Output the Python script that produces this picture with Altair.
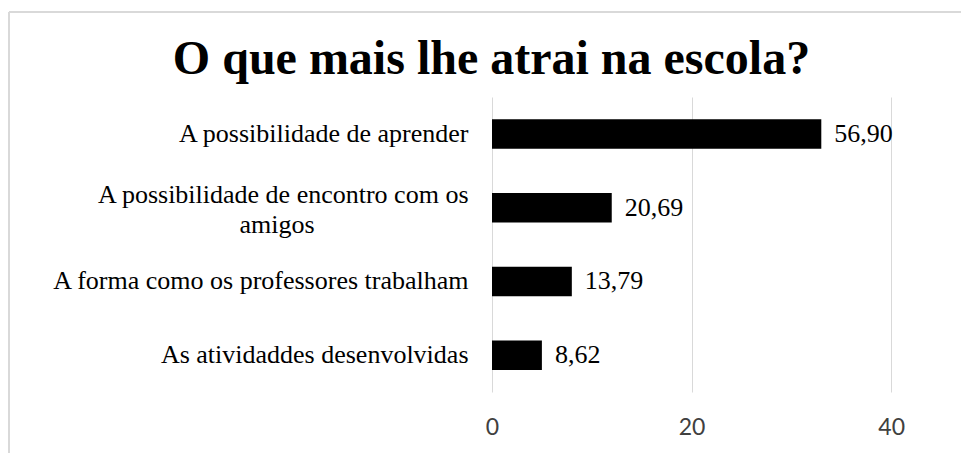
import altair as alt
import pandas as pd

# ---- data ----
categories = [
    "A possibilidade de aprender",
    "A possibilidade de encontro com os|amigos",
    "A forma como os professores trabalham",
    "As atividaddes desenvolvidas",
]
counts = [33, 12, 8, 5]                      # bar lengths (respondents)
pct_labels = ["56,90", "20,69", "13,79", "8,62"]  # printed percentages
x_ticks = [0, 20, 40]
title_text = "O que mais lhe atrai na escola?"

df = pd.DataFrame({"cat": categories, "n": counts, "pct": pct_labels})
df["line2"] = [c.split("|")[1] if "|" in c else "" for c in categories]

W, H = 469, 295

y_enc = alt.Y(
    "cat:N", sort=categories, title=None,
    scale=alt.Scale(paddingInner=0.6, paddingOuter=0.3),
    axis=alt.Axis(
        labelExpr="split(datum.label, '|')[0]",
        labelOffset={"condition": {"test": "indexof(datum.label, '|') >= 0", "value": -13}, "value": 0},
        labelFont="Liberation Serif", labelFontSize=26, labelColor="#000000",
        labelLimit=700, labelPadding=24,
        ticks=False, domain=False, grid=False,
    ),
)
x_enc = alt.X(
    "n:Q", title=None,
    scale=alt.Scale(domain=[0, 47], nice=False),
    axis=alt.Axis(
        values=x_ticks, grid=True, gridColor="#d9d9d9", gridWidth=1,
        ticks=False, tickSize=0, domain=False, labelFlush=False,
        labelFont="Lato", labelFontSize=23, labelColor="#404040",
        labelPadding=24,
    ),
)

bars = alt.Chart(df).mark_bar(color="#000000").encode(x=x_enc, y=y_enc)
texts = alt.Chart(df).mark_text(
    align="left", baseline="middle", dx=13,
    font="Liberation Serif", fontSize=26, color="#000000",
).encode(x=alt.X("n:Q"), y=alt.Y("cat:N", sort=categories), text="pct:N")

# second (centred) line of the wrapped category label
line2 = alt.Chart(df).transform_filter("datum.line2 != ''").mark_text(
    align="center", baseline="middle", dy=17,
    font="Liberation Serif", fontSize=26, color="#000000",
).encode(x=alt.value(-215), y=alt.Y("cat:N", sort=categories), text="line2:N")

border_df = pd.DataFrame({"k": [0]})
left_border = alt.Chart(border_df).mark_rule(color="#d9d9d9", strokeWidth=2).encode(
    x=alt.value(-483), y=alt.value(-85), y2=alt.value(H + 61)
)
top_border = alt.Chart(border_df).mark_rule(color="#d9d9d9", strokeWidth=2).encode(
    x=alt.value(-483), x2=alt.value(W), y=alt.value(-85)
)

chart = alt.layer(left_border, top_border, bars, texts, line2).properties(
    width=W, height=H,
    title=alt.TitleParams(
        title_text, font="Liberation Serif", fontSize=48, fontWeight="bold",
        color="#000000", anchor="middle", frame="group", dx=-235,
        offset=-111, baseline="alphabetic",
    ),
    autosize=alt.AutoSizeParams(type="none"),
    padding={"left": 484, "top": 89, "right": 0, "bottom": 61},
    background="#ffffff",
).configure_view(stroke=None)

chart.save("out.html", embed_options={"renderer": "svg", "actions": False})
